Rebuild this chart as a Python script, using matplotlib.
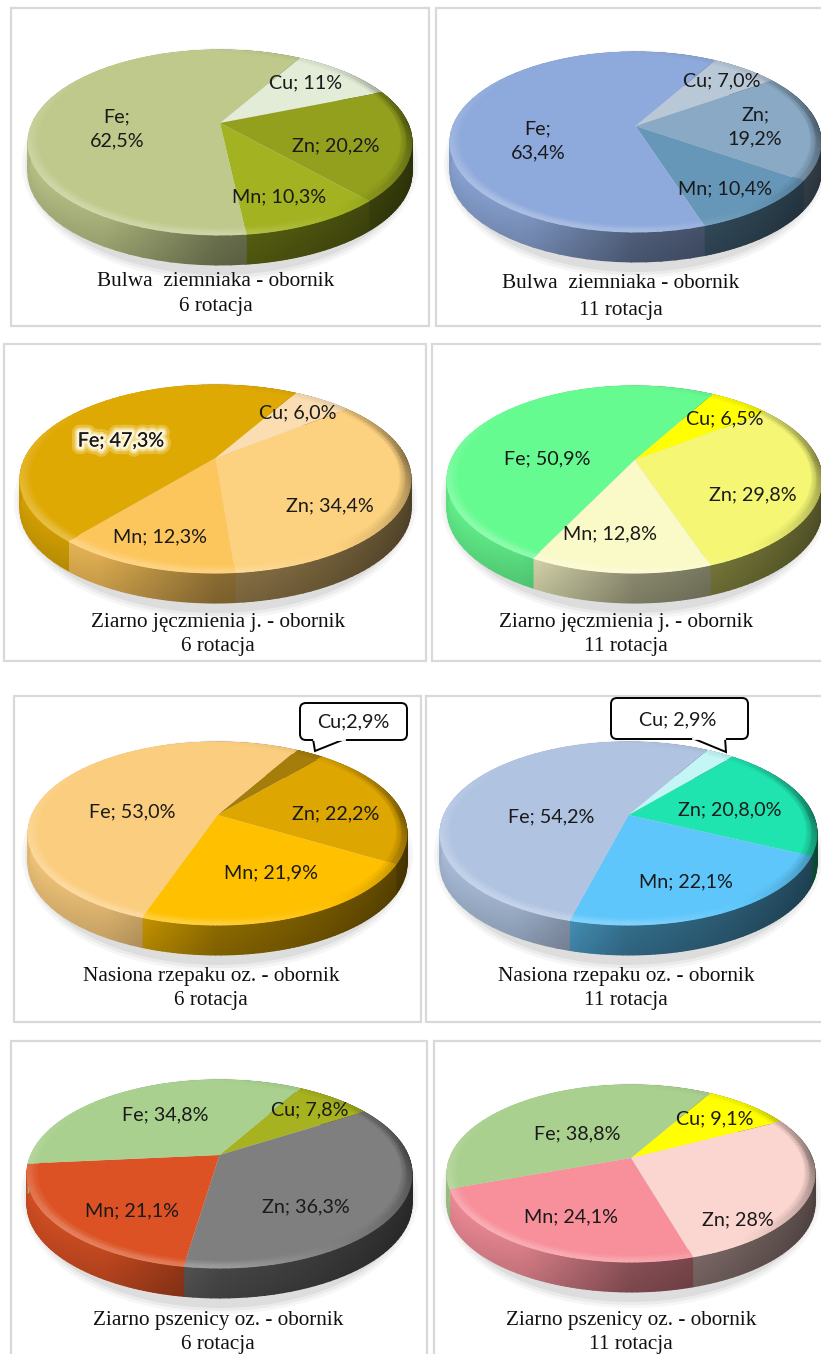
import numpy as np
import matplotlib
matplotlib.use('Agg')
import matplotlib.pyplot as plt
import matplotlib.patheffects as pe
from matplotlib.patches import Rectangle, Ellipse, FancyBboxPatch, Polygon
from matplotlib.path import Path
from matplotlib.transforms import Transform

# shares in slice order: Cu, Zn, Mn, Fe (clockwise)
elements = ['Cu', 'Zn', 'Mn', 'Fe']
potato_6 = [11, 20.2, 10.3, 62.5]
potato_11 = [7.0, 19.2, 10.4, 63.4]
barley_6 = [6.0, 34.4, 12.3, 47.3]
barley_11 = [6.5, 29.8, 12.8, 50.9]
rape_6 = [2.9, 22.2, 21.9, 53.0]
rape_11 = [2.9, 20.8, 22.1, 54.2]
wheat_6 = [7.8, 36.3, 21.1, 34.8]
wheat_11 = [9.1, 28, 24.1, 38.8]

potato_6_text = ['Cu; 11%', 'Zn; 20,2%', 'Mn; 10,3%', 'Fe;\n62,5%']
potato_11_text = ['Cu; 7,0%', 'Zn;\n19,2%', 'Mn; 10,4%', 'Fe;\n63,4%']
barley_6_text = ['Cu; 6,0%', 'Zn; 34,4%', 'Mn; 12,3%', 'Fe; 47,3%']
barley_11_text = ['Cu; 6,5%', 'Zn; 29,8%', 'Mn; 12,8%', 'Fe; 50,9%']
rape_6_text = ['Cu;2,9%', 'Zn; 22,2%', 'Mn; 21,9%', 'Fe; 53,0%']
rape_11_text = ['Cu; 2,9%', 'Zn; 20,8,0%', 'Mn; 22,1%', 'Fe; 54,2%']
wheat_6_text = ['Cu; 7,8%', 'Zn; 36,3%', 'Mn; 21,1%', 'Fe; 34,8%']
wheat_11_text = ['Cu; 9,1%', 'Zn; 28%', 'Mn; 24,1%', 'Fe; 38,8%']

titles = [
    ('Bulwa  ziemniaka - obornik', '6 rotacja'),
    ('Bulwa  ziemniaka - obornik', '11 rotacja'),
    ('Ziarno jęczmienia j. - obornik', '6 rotacja'),
    ('Ziarno jęczmienia j. - obornik', '11 rotacja'),
    ('Nasiona rzepaku oz. - obornik', '6 rotacja'),
    ('Nasiona rzepaku oz. - obornik', '11 rotacja'),
    ('Ziarno pszenicy oz. - obornik', '6 rotacja'),
    ('Ziarno pszenicy oz. - obornik', '11 rotacja'),
]

colors = [
    ['#E2ECD6', '#92A01E', '#A2B220', '#BFC98B'],
    ['#B8C8D6', '#8AA9C4', '#6797B8', '#8EA9DB'],
    ['#FBDDB2', '#FCD17F', '#FDC65C', '#DFA903'],
    ['#FFFF00', '#F4F674', '#FAF9C8', '#66FB91'],
    ['#A57D0A', '#DEA600', '#FFC000', '#FBCD7E'],
    ['#C4F6F6', '#20E4B0', '#5EC6FB', '#B0C4E2'],
    ['#A6B21F', '#7F7F7F', '#DC5224', '#A9D08E'],
    ['#FFFF00', '#FBD5CF', '#F7909B', '#A9D08E'],
]

values = [potato_6, potato_11, barley_6, barley_11, rape_6, rape_11, wheat_6, wheat_11]
texts = [potato_6_text, potato_11_text, barley_6_text, barley_11_text,
         rape_6_text, rape_11_text, wheat_6_text, wheat_11_text]

# layout, in image pixels
frames = [(11, 8, 429, 326), (436, 8, 830, 326), (4, 344, 426, 661), (432, 344, 830, 661),
          (14, 696, 421, 1022), (426, 696, 830, 1022), (11, 1041, 427, 1365), (434, 1041, 830, 1365)]
# left, right, top, bottom of the wall, apex y
pies = [(28, 412, 50, 265, 123), (450, 821, 52, 262, 126), (20, 411, 385, 603, 458),
        (447, 822, 386, 603, 460), (28, 407, 742, 955, 815), (440, 817, 742, 955, 815),
        (27, 412, 1080, 1298, 1155), (447, 815, 1085, 1292, 1158)]
label_xy = [
    [(306, 82), (336, 145), (279, 196), (117, 128)],
    [(722, 80), (755, 126), (725, 188), (538, 140)],
    [(298, 412), (330, 505), (160, 536), (121, 440)],
    [(725, 418), (753, 494), (610, 533), (547, 458)],
    [(353, 721), (336, 813), (271, 872), (132, 811)],
    [(678, 719), (730, 809), (686, 881), (551, 816)],
    [(310, 1109), (306, 1206), (132, 1210), (165, 1114)],
    [(715, 1118), (738, 1219), (571, 1216), (577, 1133)],
]
title_xy = [(216, 282, 307), (621, 284, 310), (218, 622, 647), (626, 622, 647),
            (211, 976, 1001), (626, 976, 1001), (218, 1321, 1345), (631, 1321, 1345)]
DEPTH = 30
START = 60
LABEL_FONT = 'Lato'
TITLE_FONT = 'Liberation Serif'


def geometry(left, right, top, bottom, apex_y):
    rx = (right - left) / 2
    ry = (bottom - DEPTH - top) / 2
    k = (top + ry - apex_y) / ry
    return (left + right) / 2, apex_y, rx * np.sqrt(1 - k * k), ry * (1 - k * k), k


def project(u, v, geo):
    cx, cy, a, b, k = geo
    w = 1 + k * v
    return cx + a * u / w, cy - b * v / w


class PieView(Transform):
    # perspective view of the unit disc, the apex sits above the ellipse centre
    input_dims = 2
    output_dims = 2

    def __init__(self, geo):
        super().__init__()
        self.geo = geo

    def transform_non_affine(self, values):
        x, y = project(values[:, 0], values[:, 1], self.geo)
        return np.column_stack([x, y])

    def transform_path_non_affine(self, path):
        return Path(self.transform_non_affine(path.vertices), path.codes)


def rim_shade(theta):
    return np.interp(np.mod(theta, 360), [0, 45, 90, 135, 180, 225, 270, 315, 360],
                     [0.5, 0.92, 1.0, 1.0, 1.14, 1.3, 1.25, 0.9, 0.5])


def shaded(rgb, g):
    g = g[..., None]
    return np.where(g > 1, rgb + (1 - rgb) * (g - 1), rgb * g).clip(0, 1)


plt.rcParams['font.family'] = [LABEL_FONT, 'DejaVu Sans']
fig = plt.figure(figsize=(8.21, 13.54), dpi=100)
ax = fig.add_axes([0, 0, 1, 1])

for i in range(8):
    x0, y0, x1, y1 = frames[i]
    ax.add_patch(Rectangle((x0, y0), x1 - x0, y1 - y0, fc='white', ec='#D9D9D9', lw=1.6, zorder=1))

    left, right, top, bottom, apex_y = pies[i]
    geo = geometry(left, right, top, bottom, apex_y)

    # soft shadow under the disc
    for grow, alpha in [(18, 0.07), (12, 0.09), (6, 0.12)]:
        ax.add_patch(Ellipse(((left + right) / 2, (top + bottom) / 2 + 7),
                             right - left + grow - 6, bottom - top + grow,
                             fc='#808080', ec='none', alpha=alpha, zorder=2))

    wedges, _ = ax.pie(values[i], colors=colors[i], startangle=START, counterclock=False)
    for w, c in zip(wedges, colors[i]):
        w.set_transform(PieView(geo) + ax.transData)
        w.set_zorder(5)
        w.set_clip_on(False)
        rgb = np.array(matplotlib.colors.to_rgb(c))
        theta = np.radians(np.linspace(w.theta1, w.theta2, 60))
        deg = np.degrees(theta)

        # side wall
        ex, ey = project(np.cos(theta), np.sin(theta), geo)
        d = np.linspace(0, 1, 6)
        wx = np.repeat(ex[None, :], 6, axis=0)
        wy = ey[None, :] + d[:, None] * DEPTH
        f = np.interp(np.cos(theta), [-1, -0.5, 0, 1], [0.98, 0.88, 0.55, 0.33])
        g = f[None, :] * (1 - 0.1 * d[:, None])
        ax.pcolormesh(wx, wy, shaded(rgb, g), shading='gouraud', zorder=3)

        # bevel round the top face
        rr = np.array([0.945, 0.975, 1.0])
        bx, by = project(rr[:, None] * np.cos(theta), rr[:, None] * np.sin(theta), geo)
        g = 1 + (rim_shade(deg)[None, :] - 1) * np.array([0.0, 0.65, 1.0])[:, None]
        ax.pcolormesh(bx, by, shaded(rgb, g), shading='gouraud', zorder=6)

    for (lx, ly), s in zip(label_xy[i], texts[i]):
        ax.text(lx, ly + 1, s, ha='center', va='center', ma='center', fontsize=14.2, color='#1A1A1A',
                linespacing=1.45, zorder=10)

    tx, ty1, ty2 = title_xy[i]
    ax.text(tx, ty1, titles[i][0], ha='center', va='center', family=TITLE_FONT, fontsize=15.3, color='#111111', zorder=10)
    ax.text(tx, ty2, titles[i][1], ha='center', va='center', family=TITLE_FONT, fontsize=15.3, color='#111111', zorder=10)

# glow behind the Fe label of the barley chart
for t in ax.texts:
    if t.get_text() == barley_6_text[3]:
        t.set_path_effects([pe.withStroke(linewidth=11, foreground='#FFF3C0', alpha=0.3),
                            pe.withStroke(linewidth=7, foreground='#FFF6D0', alpha=0.5),
                            pe.withStroke(linewidth=4, foreground='#FFFBEA', alpha=0.85),
                            pe.Normal()])

# callouts for the small Cu slices
for (bx0, by0, bx1, by1), tail in [((300, 703, 407, 740), [(313, 739), (315, 751), (345, 739)]),
                                   ((611, 698, 748, 739), [(692, 738), (726, 752), (725, 738)])]:
    ax.add_patch(FancyBboxPatch((bx0 + 6, by0 + 6), bx1 - bx0 - 12, by1 - by0 - 12,
                                boxstyle='round,pad=6,rounding_size=6',
                                fc='white', ec='black', lw=1.4, zorder=8))
    ax.add_patch(Polygon(tail, closed=False, fc='white', ec='black', lw=1.4, zorder=9))
    ax.plot([tail[0][0] + 1, tail[2][0] - 1], [tail[0][1], tail[2][1]], color='white', lw=2, zorder=9.5)

ax.set_aspect('auto')
ax.set_xlim(0, 821)
ax.set_ylim(1354, 0)
ax.axis('off')
fig.savefig('out.png', dpi=100)
